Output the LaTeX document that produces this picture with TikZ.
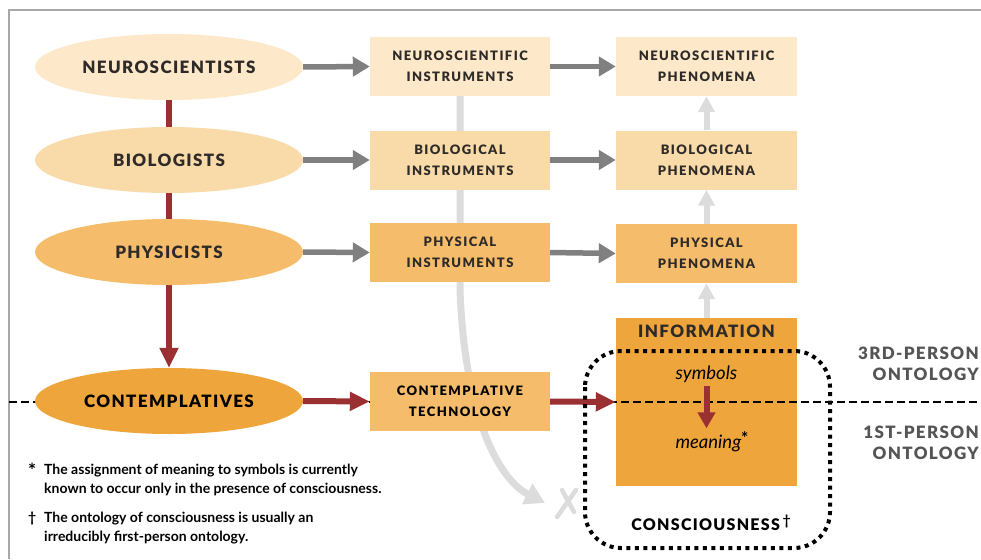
\documentclass[tikz,border=0pt]{standalone}
\usepackage{fontspec}
\setmainfont{Lato}
\newfontfamily\capfont[LetterSpace=8,BoldFont={Lato Black}]{Lato}
\newfontfamily\tagfont[LetterSpace=11,BoldFont={Lato Black}]{Lato}
\usepackage{xcolor}
\usepackage{tikz}
\usetikzlibrary{positioning,calc}
\usetikzlibrary{arrows.meta,shapes}
\definecolor{paleorange}{HTML}{FDE8C9}
\definecolor{lightorange}{HTML}{F9DAA9}
\definecolor{midorange}{HTML}{F5BC6C}
\definecolor{deeporange}{HTML}{EDA53C}
\definecolor{darkred}{HTML}{9A3032}
\definecolor{arrowgray}{HTML}{808080}
\definecolor{palegray}{HTML}{DCDCDC}
\definecolor{framegray}{HTML}{A8A8A8}
\definecolor{labeltext}{HTML}{2E2A28}
\definecolor{ontogray}{HTML}{555555}
\newcommand{\starmark}{\raisebox{-3pt}{\fontsize{19}{19}\selectfont *}}
\tikzstyle{oval} = [ellipse, minimum width=268pt, minimum height=66pt, inner sep=0pt, text=labeltext, font=\capfont\bfseries\fontsize{17}{20}\selectfont]
\tikzstyle{box} = [rectangle, minimum width=180pt, minimum height=59pt, inner sep=0pt, align=center, text=labeltext, font=\tagfont\bfseries\fontsize{13}{21}\selectfont]
\tikzstyle{grayline} = [-{Triangle[length=17pt,width=19pt]}, line width=5.5pt, arrowgray]
\tikzstyle{redline} = [-{Triangle[length=20pt,width=18pt]}, line width=6pt, darkred]
\tikzstyle{paleline} = [-{Triangle[length=16pt,width=16pt]}, line width=6pt, palegray]
\tikzstyle{ontology} = [anchor=east, align=right, inner sep=0pt, text=ontogray, font=\capfont\bfseries\fontsize{17}{21}\selectfont]
\tikzstyle{note} = [anchor=north west, align=left, inner sep=0pt, text=black, font=\bfseries\fontsize{14}{19}\selectfont]

\begin{document}
\begin{tikzpicture}[x=1pt,y=-1pt]
    \useasboundingbox (0,0) rectangle (981,559);
    \draw[framegray, line width=1.8pt] (9,559) -- (9,10) -- (981,10);

    % information block under the ontology line
    \node[rectangle, fill=deeporange, minimum width=181pt, minimum height=168pt, inner sep=0pt] (info) at (706.5,402) {};
    \node[text=labeltext, font=\capfont\bfseries\fontsize{17}{20}\selectfont] (infolabel) at ($(info.north)+(0,14)$) {INFORMATION};
    \coordinate (dl) at (9,402);
    \coordinate (dr) at (981,402);
    \draw[black, line width=2.2pt, dash pattern=on 8pt off 4pt] (dl) -- (dr);

    % scientists
    \node[oval, fill=paleorange] (neuro) at (169,67) {NEUROSCIENTISTS};
    \node[oval, fill=deeporange, text=black] (contemp) at (169,401) {CONTEMPLATIVES};
    \draw[redline] (neuro.south) -- (contemp.north);
    \node[oval, fill=lightorange] (bio) at (169,160) {BIOLOGISTS};
    \node[oval, fill=midorange] (phys) at (169,252) {PHYSICISTS};

    % instruments
    \node[box, fill=paleorange] (neuroinst) at (460,66.5) {NEUROSCIENTIFIC\\INSTRUMENTS};
    \coordinate (xend) at (545,503);
    \draw[palegray, line width=7pt, -{Triangle[length=20pt,width=22pt]}] (neuroinst.south) -- ($(neuroinst.south)+(0,194)$) .. controls (465,420) and (500,480) .. (xend);
    \node[box, fill=lightorange] (bioinst) at (460,160) {BIOLOGICAL\\INSTRUMENTS};
    \node[box, fill=midorange] (physinst) at (460,252.5) {PHYSICAL\\INSTRUMENTS};
    \node[box, fill=midorange, text=black] (tech) at (460,401.5) {CONTEMPLATIVE\\TECHNOLOGY};

    % phenomena
    \node[box, fill=paleorange, minimum width=181pt] (neurophen) at (706.5,66.5) {NEUROSCIENTIFIC\\PHENOMENA};
    \node[box, fill=lightorange, minimum width=181pt] (biophen) at (706.5,160) {BIOLOGICAL\\PHENOMENA};
    \node[box, fill=midorange, minimum width=181pt] (physphen) at (706.5,253.5) {PHYSICAL\\PHENOMENA};

    \draw[grayline] (neuro.east) -- (neuroinst.west);
    \draw[grayline] (bio.east) -- (bioinst.west);
    \draw[grayline] (phys.east) -- (physinst.west);
    \draw[grayline] (neuroinst.east) -- (neurophen.west);
    \draw[grayline] (bioinst.east) -- (biophen.west);
    \draw[grayline] (physinst.east) -- (physphen.west);
    \draw[paleline] (info.north) -- (physphen.south);
    \draw[paleline] (physphen.north) -- (biophen.south);
    \draw[paleline] (biophen.north) -- (neurophen.south);
    \draw[redline] (contemp.east) -- (tech.west);
    \draw[redline] (tech.east) -- (info.west);

    % inside information
    \node[text=black, font=\itshape\fontsize{18.5}{20}\selectfont] (symb) at (706.5,374) {symbols};
    \node[text=black, font=\itshape\fontsize{18.5}{20}\selectfont] (mean) at (712,442) {meaning\raisebox{4pt}{\upshape\bfseries\fontsize{17}{17}\selectfont *}};
    \draw[redline, -{Triangle[length=16pt,width=17pt]}] (symb.south) -- ($(mean.north)+(-5.5,0)$);

    % consciousness
    \draw[black, line width=4pt, dash pattern=on 4pt off 4.5pt, rounded corners=36pt] (585,351) rectangle (830,548);
    \node[text=black, font=\capfont\bfseries\fontsize{16}{20}\selectfont] (consc) at (711,523) {CONSCIOUSNESS\,\raisebox{5pt}{\normalfont\bfseries\fontsize{14}{14}\selectfont\dag}};
    \draw[palegray, line width=4.5pt, line cap=round] (557,517) -- (576,490) (562,490) -- (574,512);

    % ontology labels
    \node[ontology] (third) at (979,364) {3RD-PERSON\\ONTOLOGY};
    \node[ontology] (first) at (979,443) {1ST-PERSON\\ONTOLOGY};

    % notes
    \node[note] (note1) at (28,463) {\makebox[16pt][l]{\starmark}The assignment of meaning to symbols is currently\\\hspace*{16pt}known to occur only in the presence of consciousness.};
    \node[note] (note2) at (28,512) {\makebox[16pt][l]{\dag}The ontology of consciousness is usually an\\\hspace*{16pt}irreducibly first-person ontology.};
\end{tikzpicture}
\end{document}
